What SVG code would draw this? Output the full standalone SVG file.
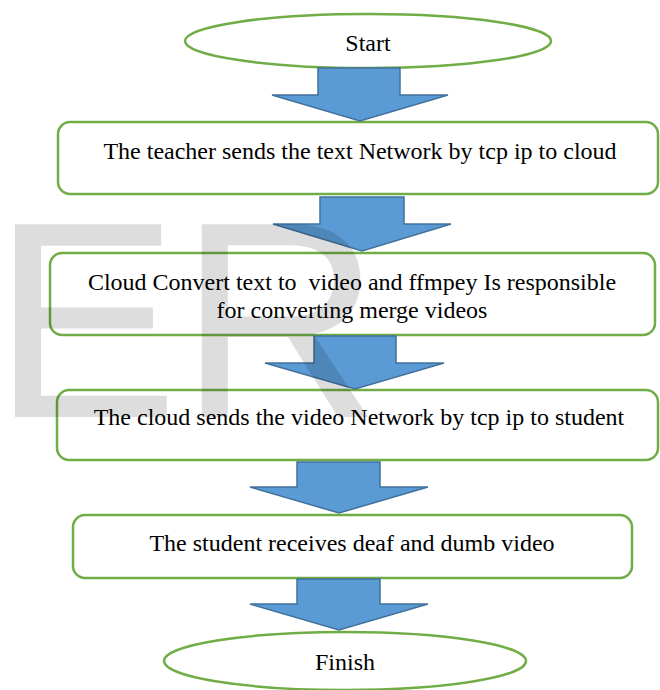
<svg xmlns="http://www.w3.org/2000/svg" width="660" height="690" viewBox="0 0 660 690">
  <style>
    .box { fill: #ffffff; stroke: #70ad47; stroke-width: 2.5; }
    .lbl { font-family: "Liberation Serif", "Times New Roman", serif; font-size: 24px; fill: #000; text-anchor: middle; white-space: pre; }
    .arr { fill: #5b9bd5; stroke: #41719c; stroke-width: 1.5; stroke-linejoin: miter; }
    .wm { font-family: "Liberation Sans", Arial, sans-serif; font-size: 280px; fill: #000; fill-opacity: 0.135; }
  </style>
  <rect x="0" y="0" width="660" height="690" fill="#ffffff"/>

  <g id="start">
    <ellipse class="box" cx="368" cy="41" rx="183" ry="27"/>
    <text class="lbl" x="368" y="51">Start</text>
  </g>

  <g id="step1">
    <rect class="box" x="58" y="122" width="600" height="72" rx="12"/>
    <text class="lbl" x="360" y="159">The teacher sends the text Network by tcp ip to cloud</text>
  </g>

  <g id="step2">
    <rect class="box" x="50" y="253" width="605" height="82" rx="12"/>
    <text class="lbl" x="352" y="290">Cloud Convert text to  video and ffmpey Is responsible</text>
    <text class="lbl" x="352" y="318">for converting merge videos</text>
  </g>

  <g id="step3">
    <rect class="box" x="57" y="390" width="601" height="70" rx="12"/>
    <text class="lbl" x="359" y="425">The cloud sends the video Network by tcp ip to student</text>
  </g>

  <g id="step4">
    <rect class="box" x="73" y="515" width="559" height="63" rx="12"/>
    <text class="lbl" x="352" y="551">The student receives deaf and dumb video</text>
  </g>

  <g id="finish">
    <ellipse class="box" cx="345" cy="661" rx="181" ry="29"/>
    <text class="lbl" x="345" y="670">Finish</text>
  </g>

  <g id="connectors">
    <polygon class="arr" points="318,68 400,68 400,95 448,95 360,121 272,95 318,95"/>
    <polygon class="arr" points="320,197 404,197 404,224 451,224 362,251 273,224 320,224"/>
    <polygon class="arr" points="314,336 396,336 396,363 444,363 355,389 265,363 314,363"/>
    <polygon class="arr" points="297,462 380,462 380,487 428,487 339,513 250,487 297,487"/>
    <polygon class="arr" points="297,579 380,579 380,604 428,604 339,630 250,604 297,604"/>
  </g>

  <text class="wm" x="-8" y="417">ER</text>
</svg>
